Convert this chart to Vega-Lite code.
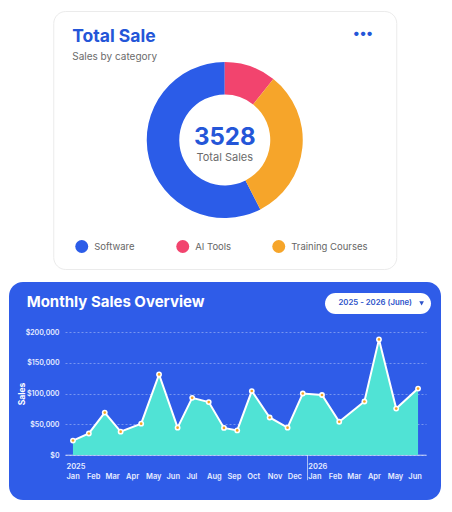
{
  "$schema": "https://vega.github.io/schema/vega-lite/v6.json",
  "background": "white",
  "padding": {"left": 9, "top": 10, "right": 11, "bottom": 14},
  "title": {
    "text": "•••",
    "anchor": "end",
    "frame": "bounds",
    "offset": -30,
    "dx": -68,
    "fontSize": 14,
    "fontWeight": "bold",
    "color": "#2456d8"
  },
  "spacing": 12,
  "center": true,
  "resolve": {
    "scale": {"color": "independent", "shape": "independent"},
    "legend": {"color": "independent", "shape": "independent"}
  },
  "vconcat": [
    {
      "width": 343,
      "height": 258,
      "view": {"fill": "white", "stroke": "#ebebeb", "cornerRadius": 12},
      "title": {
        "text": "Total Sale",
        "subtitle": "Sales by category",
        "anchor": "start",
        "frame": "group",
        "offset": -51,
        "dx": 19,
        "fontSize": 17.5,
        "fontWeight": "bold",
        "color": "#2456d8",
        "subtitleFontSize": 10,
        "subtitleColor": "#6b6b6b",
        "subtitlePadding": 6.5
      },
      "data": {
        "values": [
          {"category": "Software", "sales": 2030},
          {"category": "AI Tools", "sales": 378},
          {"category": "Training Courses", "sales": 1120}
        ]
      },
      "layer": [
        {
          "mark": {"type": "arc", "outerRadius": 78, "innerRadius": 45.5},
          "encoding": {
            "theta": {"field": "sales", "type": "quantitative", "stack": true},
            "order": {"field": "sales", "sort": "ascending"},
            "color": {
              "field": "category",
              "type": "nominal",
              "scale": {
                "domain": ["Software", "AI Tools", "Training Courses"],
                "range": ["#2b5ce8", "#f2446e", "#f6a52a"]
              },
              "legend": {
                "orient": "none",
                "legendX": 22,
                "legendY": 229,
                "direction": "horizontal",
                "title": null,
                "symbolType": "circle",
                "symbolSize": 169,
                "symbolStrokeWidth": 0,
                "labelFontSize": 9.5,
                "labelColor": "#666666",
                "labelOffset": 6,
                "columnPadding": 41,
                "padding": 0
              }
            }
          }
        },
        {
          "mark": {"type": "text", "fontSize": 24, "fontWeight": "bold", "color": "#2456d8", "baseline": "middle", "dy": -2},
          "encoding": {
            "text": {"aggregate": "sum", "field": "sales", "type": "quantitative", "format": "d"}
          }
        },
        {
          "data": {"values": [{"caption": "Total Sales"}]},
          "mark": {"type": "text", "fontSize": 11, "color": "#6b6b6b", "baseline": "middle", "dy": 18},
          "encoding": {"text": {"field": "caption", "type": "nominal"}}
        }
      ]
    },
    {
      "width": 432,
      "height": 218,
      "view": {"fill": "#2f5ce8", "stroke": null, "cornerRadius": 14},
      "title": {
        "text": "Monthly Sales Overview",
        "anchor": "start",
        "frame": "group",
        "offset": -28,
        "dx": 17.7,
        "fontSize": 15,
        "fontWeight": "bold",
        "color": "white"
      },
      "data": {
        "values": [
          {"date": "2025-01-13", "sales": 23500},
          {"date": "2025-02-06", "sales": 35000},
          {"date": "2025-03-02", "sales": 69000},
          {"date": "2025-03-26", "sales": 38000},
          {"date": "2025-04-26", "sales": 51000},
          {"date": "2025-05-23", "sales": 131000},
          {"date": "2025-06-20", "sales": 44500},
          {"date": "2025-07-12", "sales": 93000},
          {"date": "2025-08-06", "sales": 86000},
          {"date": "2025-08-29", "sales": 44000},
          {"date": "2025-09-18", "sales": 40000},
          {"date": "2025-10-10", "sales": 104000},
          {"date": "2025-11-06", "sales": 61000},
          {"date": "2025-12-03", "sales": 44500},
          {"date": "2025-12-26", "sales": 100000},
          {"date": "2026-01-24", "sales": 97500},
          {"date": "2026-02-19", "sales": 54000},
          {"date": "2026-03-29", "sales": 87000},
          {"date": "2026-04-20", "sales": 188000},
          {"date": "2026-05-16", "sales": 75500},
          {"date": "2026-06-18", "sales": 108000}
        ]
      },
      "encoding": {
        "x": {
          "field": "date",
          "type": "temporal",
          "scale": {
            "type": "utc",
            "domain": [
              {"year": 2025, "month": 1, "date": 1, "utc": true},
              {"year": 2026, "month": 6, "date": 30, "utc": true}
            ],
            "range": [56, 417],
            "nice": false
          },
          "axis": {
            "title": null,
            "offset": -45.3,
            "tickCount": {"interval": "month", "step": 1},
            "labelExpr": "utcmonth(datum.value) == 0 ? [utcFormat(datum.value, '%Y'), utcFormat(datum.value, '%b')] : [' ', utcFormat(datum.value, '%b')]",
            "labelAlign": "left",
            "labelBaseline": "top",
            "labelPadding": -17,
            "labelOffset": 1,
            "labelLineHeight": 10,
            "labelFontSize": 7.5,
            "labelFontWeight": 600,
            "labelColor": "#e8edff",
            "labelOverlap": false,
            "labelFlush": false,
            "labelBound": false,
            "domainColor": "#ffffff",
            "domainOpacity": 0.75,
            "domainWidth": 1,
            "grid": false,
            "ticks": true,
            "tickSize": 25,
            "tickColor": "#ffffff",
            "tickWidth": 1,
            "tickOpacity": {
              "condition": {"test": "utcyear(datum.value) == 2026 && utcmonth(datum.value) == 0", "value": 0.6},
              "value": 0
            }
          }
        },
        "y": {
          "field": "sales",
          "type": "quantitative",
          "title": "Sales",
          "scale": {"domain": [0, 200000], "range": [173, 50], "nice": false},
          "axis": {
            "offset": -56,
            "values": [0, 50000, 100000, 150000, 200000],
            "format": "$,.0f",
            "labelFontSize": 7,
            "labelFontWeight": 600,
            "labelColor": "#e8edff",
            "labelPadding": 6,
            "titleColor": "white",
            "titleFontSize": 8.5,
            "titleFontWeight": "bold",
            "titlePadding": -1.5,
            "domain": false,
            "ticks": false,
            "grid": true,
            "gridColor": "#ffffff",
            "gridOpacity": 0.35,
            "gridDash": [2, 2],
            "gridWidth": 1
          }
        }
      },
      "layer": [
        {
          "mark": {"type": "area", "color": "#50e3d5", "opacity": 1, "line": {"color": "white", "strokeWidth": 2}}
        },
        {
          "mark": {"type": "point", "filled": true, "color": "white", "size": 34, "opacity": 1}
        },
        {
          "mark": {"type": "point", "filled": true, "color": "#f5a623", "size": 7, "opacity": 1}
        },
        {
          "data": {"values": []},
          "mark": {"type": "point", "filled": true, "color": "#2c52c9", "opacity": 1},
          "encoding": {
            "shape": {
              "datum": "2025 - 2026 (June)",
              "scale": {"range": ["triangle-down"]},
              "legend": {
                "orient": "top-right",
                "offset": 10.5,
                "title": null,
                "fillColor": "white",
                "cornerRadius": 10.5,
                "padding": 6.5,
                "labelFontSize": 7.8,
                "labelFontWeight": 600,
                "labelColor": "#2c52c9",
                "labelOffset": -87.1,
                "labelExpr": "datum.label + '\u00a0\u00a0\u00a0\u00a0\u00a0\u00a0\u00a0\u00a0\u00a0'",
                "symbolSize": 22,
                "symbolOffset": 86.2,
                "symbolStrokeWidth": 0
              }
            }
          }
        }
      ]
    }
  ],
  "config": {
    "font": "Inter",
    "view": {"stroke": null},
    "title": {"font": "Inter", "subtitleFont": "Inter"}
  }
}
